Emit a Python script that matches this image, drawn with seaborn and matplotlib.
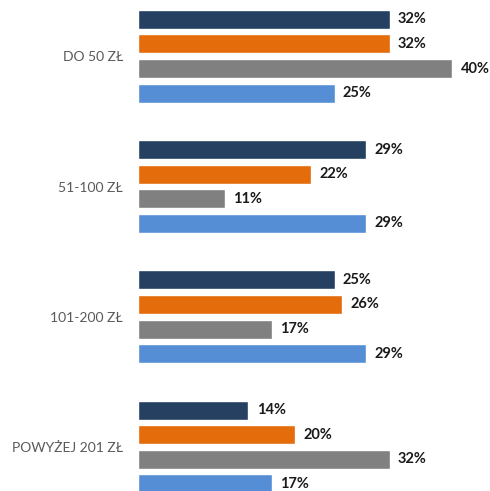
import matplotlib
matplotlib.use("Agg")
import matplotlib.pyplot as plt
import seaborn as sns
import pandas as pd

categories = ["DO 50 ZŁ", "51-100 ZŁ", "101-200 ZŁ", "POWYŻEJ 201 ZŁ"]
series = ["Seria 1", "Seria 2", "Seria 3", "Seria 4"]
values = {
    "Seria 1": [32, 29, 25, 14],
    "Seria 2": [32, 22, 26, 20],
    "Seria 3": [40, 11, 17, 32],
    "Seria 4": [25, 29, 29, 17],
}
colors = ["#254061", "#E46C0A", "#808080", "#558ED5"]

rows = []
for s in series:
    for c, v in zip(categories, values[s]):
        rows.append({"kategoria": c, "seria": s, "wartosc": v})
df = pd.DataFrame(rows)

sns.set_theme(style="white")
plt.rcParams["font.family"] = ["Lato", "DejaVu Sans"]

fig = plt.figure(figsize=(4.9, 4.91), dpi=100)
ax = fig.add_axes([138.3 / 490, 0, 1 - 138.3 / 490, 1])

sns.barplot(data=df, y="kategoria", x="wartosc", hue="seria", order=categories,
            hue_order=series, palette=colors, orient="h", width=0.756, gap=0.23,
            legend=False, ax=ax, saturation=1)

for cont in ax.containers:
    ax.bar_label(cont, labels=[f"{int(v)}%" for v in cont.datavalues], padding=6,
                 fontsize=10.5, fontweight="bold", color="#1a1a1a")

ax.set_xlim(0, 44.8)
ax.set_ylim(3.338, -0.432)
ax.set_xlabel("")
ax.set_ylabel("")
ax.set_xticks([])
ax.tick_params(axis="y", length=0, pad=11, labelsize=10, labelcolor="#595959")
for sp in ax.spines.values():
    sp.set_visible(False)

fig.savefig("out.png", dpi=100)
